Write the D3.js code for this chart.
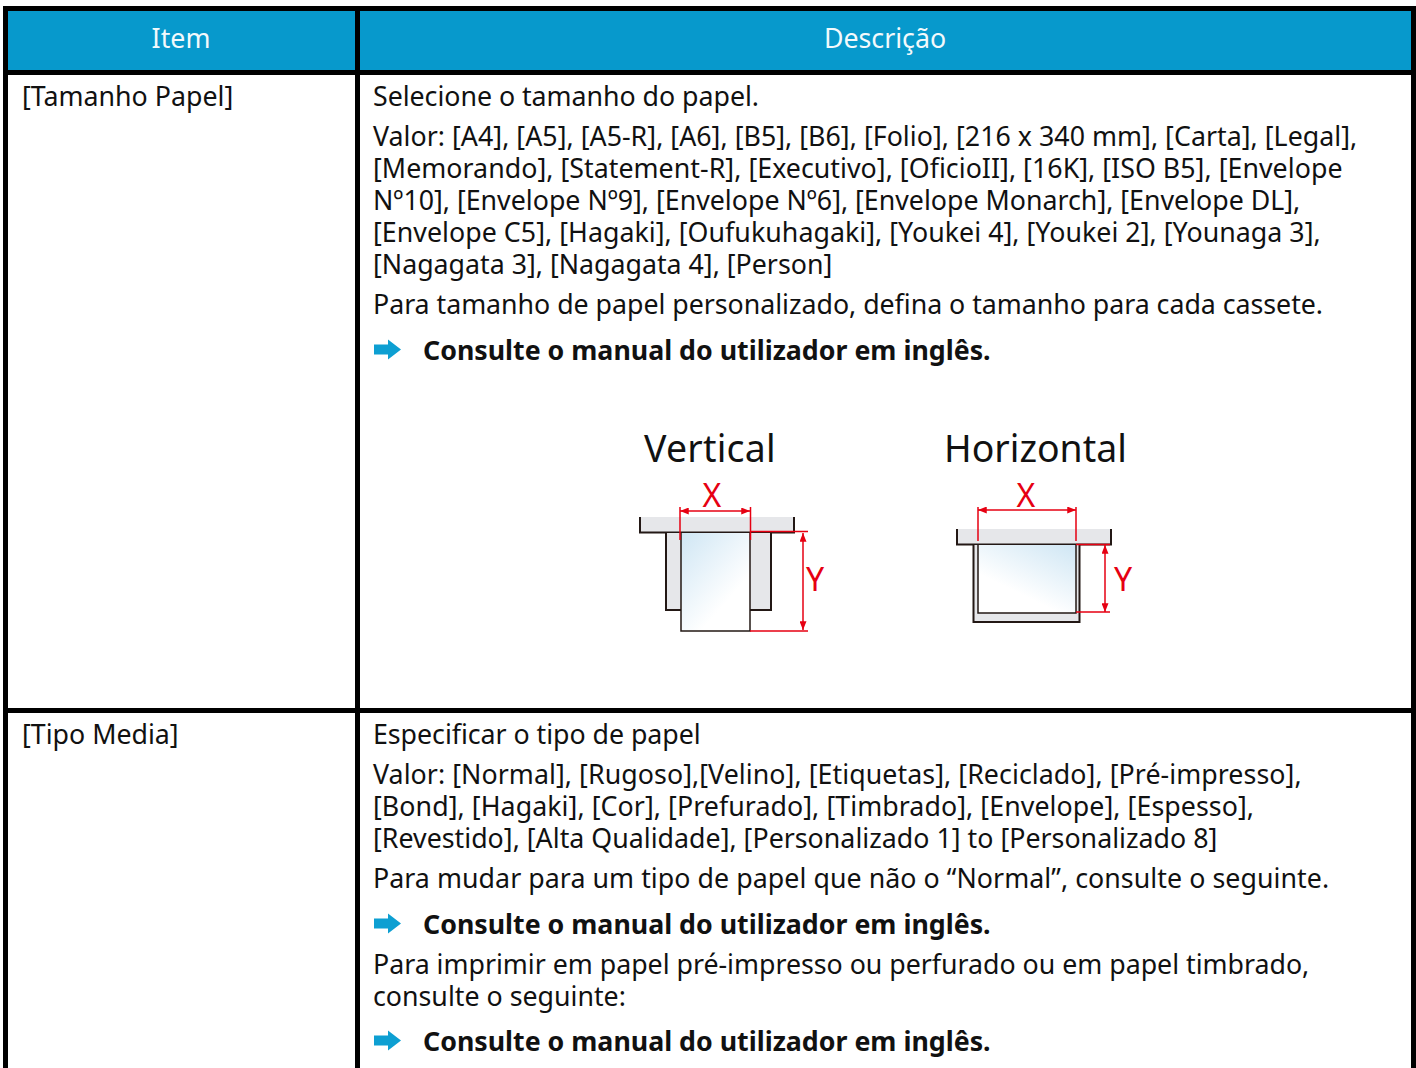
<!DOCTYPE html>
<html lang="pt">
<head>
<meta charset="utf-8">
<script src="https://cdn.jsdelivr.net/npm/d3@7"></script>
<style>
  html, body { margin: 0; padding: 0; background: #fff; }
  svg { display: block; }
  text { font-family: "Noto Sans", sans-serif; font-size: 26.75px; fill: #111; }
  .cabecalho { fill: #fff; text-anchor: middle; opacity: .95; }
  .negrito { font-weight: 700; }
  .titulo { font-size: 37.4px; }
  .medida { font-size: 32px; fill: #e60012; text-anchor: middle; }
</style>
</head>
<body>
<svg id="tabela" width="1416" height="1068"></svg>
<script>
// Textos da tabela
var cabecalhos = ['Item', 'Descrição'];
var itens = ['[Tamanho Papel]', '[Tipo Media]'];
var blocoTamanho = [
  ['Selecione o tamanho do papel.'],
  ['Valor: [A4], [A5], [A5-R], [A6], [B5], [B6], [Folio], [216 x 340 mm], [Carta], [Legal],',
   '[Memorando], [Statement-R], [Executivo], [OficioII], [16K], [ISO B5], [Envelope',
   'Nº10], [Envelope Nº9], [Envelope Nº6], [Envelope Monarch], [Envelope DL],',
   '[Envelope C5], [Hagaki], [Oufukuhagaki], [Youkei 4], [Youkei 2], [Younaga 3],',
   '[Nagagata 3], [Nagagata 4], [Person]'],
  ['Para tamanho de papel personalizado, defina o tamanho para cada cassete.']
];
var blocoTipo = [
  ['Especificar o tipo de papel'],
  ['Valor: [Normal], [Rugoso],[Velino], [Etiquetas], [Reciclado], [Pré-impresso],',
   '[Bond], [Hagaki], [Cor], [Prefurado], [Timbrado], [Envelope], [Espesso],',
   '[Revestido], [Alta Qualidade], [Personalizado 1] to [Personalizado 8]'],
  ['Para mudar para um tipo de papel que não o “Normal”, consulte o seguinte.']
];
var blocoTipo2 = [
  ['Para imprimir em papel pré-impresso ou perfurado ou em papel timbrado,',
   'consulte o seguinte:']
];
var referencia = 'Consulte o manual do utilizador em inglês.';
var rotulosDesenho = ['Vertical', 'Horizontal'];

var svg = d3.select('#tabela');

// Grade da tabela
var preto = '#000', azul = '#0799cc';
svg.append('rect').attr('x', 8).attr('y', 11).attr('width', 1403).attr('height', 59).attr('fill', azul);
[[3, 6, 1413, 5], [3, 70, 1413, 5], [3, 708, 1413, 5], [3, 6, 5, 1062], [355, 6, 5, 1062], [1411, 6, 5, 1062]]
  .forEach(function(r) {
    svg.append('rect').attr('x', r[0]).attr('y', r[1]).attr('width', r[2]).attr('height', r[3]).attr('fill', preto);
  });

// Cabeçalho e primeira coluna
svg.append('text').attr('class', 'cabecalho').attr('x', 181).attr('y', 48).text(cabecalhos[0]);
svg.append('text').attr('class', 'cabecalho').attr('x', 885).attr('y', 48).text(cabecalhos[1]);
svg.append('text').attr('x', 22).attr('y', 106).text(itens[0]);
svg.append('text').attr('x', 22).attr('y', 744).text(itens[1]);

var xTexto = 373, entrelinha = 32, entreBlocos = 40;

// Pequena correção da largura de cada linha, em pixels, na ordem em que são escritas
var ajustes = [-1, 3, 3, 0, 3, 0, -2, -1, 5, 5, 1, 4, -1, 0];
var proximoAjuste = 0;

// Escreve os parágrafos e devolve a linha de base seguinte
function escreva(blocos, y) {
  blocos.forEach(function(linhas) {
    linhas.forEach(function(l, i) {
      var extra = ajustes[proximoAjuste++] / l.length;
      svg.append('text').attr('x', xTexto).attr('y', y + i * entrelinha)
        .style('letter-spacing', extra + 'px').text(l);
    });
    y += (linhas.length - 1) * entrelinha + entreBlocos;
  });
  return y;
}

function refira(y) {
  var s = 'M1,-5H15V-10L28,0L15,10V5H1Z';
  svg.append('path').attr('d', s).attr('transform', 'translate(' + xTexto + ',' + (y - 10.5) + ')').attr('fill', '#0d9fd2');
  svg.append('text').attr('class', 'negrito').attr('x', 423).attr('y', y).text(referencia);
}

escreva(blocoTamanho, 106);
refira(360);
escreva(blocoTipo, 744);
refira(934);
escreva(blocoTipo2, 974);
refira(1051);

// Desenhos das bandejas
var defs = svg.append('defs');
function gradiente(id, x1, y1, x2, y2) {
  var g = defs.append('linearGradient').attr('id', id)
    .attr('x1', x1).attr('y1', y1).attr('x2', x2).attr('y2', y2);
  g.append('stop').attr('offset', 0).attr('stop-color', '#cfe6f4');
  g.append('stop').attr('offset', 0.75).attr('stop-color', '#fff');
}
gradiente('papelV', 0, 0, 0.8, 1);
gradiente('papelH', 1, 0, 0.3, 1);
var marcador = defs.append('marker').attr('id', 'seta').attr('viewBox', '0 0 10 8')
  .attr('refX', 10).attr('refY', 4).attr('markerWidth', 9).attr('markerHeight', 7)
  .attr('orient', 'auto-start-reverse').attr('markerUnits', 'userSpaceOnUse');
marcador.append('path').attr('d', 'M0,0L10,4L0,8Z').attr('fill', '#e60012');

function caixa(x, y, w, h, fill) {
  svg.append('rect').attr('x', x).attr('y', y).attr('width', w).attr('height', h).attr('fill', fill);
}
function traco(d, cor, sw) {
  svg.append('path').attr('d', d).attr('fill', 'none').attr('stroke', cor).attr('stroke-width', sw);
}
function cota(x1, y1, x2, y2) {
  svg.append('line').attr('x1', x1).attr('y1', y1).attr('x2', x2).attr('y2', y2)
    .attr('stroke', '#e60012').attr('stroke-width', 1.5)
    .attr('marker-start', 'url(#seta)').attr('marker-end', 'url(#seta)');
}
var vermelho = '#e60012', escuro = '#231815', cinza = '#e6e7ea';

svg.append('text').attr('class', 'titulo').attr('x', 644).attr('y', 462).style('letter-spacing', '0.25px').text(rotulosDesenho[0]);
svg.append('text').attr('class', 'titulo').attr('x', 944).attr('y', 462).text(rotulosDesenho[1]);

// Vertical
caixa(640, 517, 154, 15, cinza);
traco('M640,517V532.5H794V517', escuro, 2);
caixa(666, 533, 105, 77, cinza);
traco('M666,533V610H771V533', escuro, 2);
caixa(681, 533, 69, 98, 'url(#papelV)');
traco('M681,533V631H750V533', escuro, 1.5);
traco('M680,507V540M750.5,507V540', vermelho, 1.5);
traco('M750,531.5H808M750,631H808', vermelho, 1.5);
cota(680, 511, 750, 511);
cota(803, 533, 803, 630);
svg.append('text').attr('class', 'medida').attr('x', 712).attr('y', 507).text('X');
svg.append('text').attr('class', 'medida').attr('x', 815).attr('y', 591).text('Y');

// Horizontal
caixa(957, 529, 154, 15, cinza);
traco('M957,529V544.5H1111V529', escuro, 2);
caixa(973, 545, 106, 77, cinza);
traco('M973.5,545V622H1079.5V545', escuro, 2);
caixa(978, 545, 98, 68, 'url(#papelH)');
traco('M978,545V613H1076V545', escuro, 1.5);
traco('M978,507V541M1076,507V541', vermelho, 1.5);
traco('M1076,544.5H1110M1076,612H1110', vermelho, 1.5);
cota(978, 510, 1076, 510);
cota(1105, 545, 1105, 612);
svg.append('text').attr('class', 'medida').attr('x', 1026).attr('y', 507).text('X');
svg.append('text').attr('class', 'medida').attr('x', 1123).attr('y', 591).text('Y');
</script>
</body>
</html>
